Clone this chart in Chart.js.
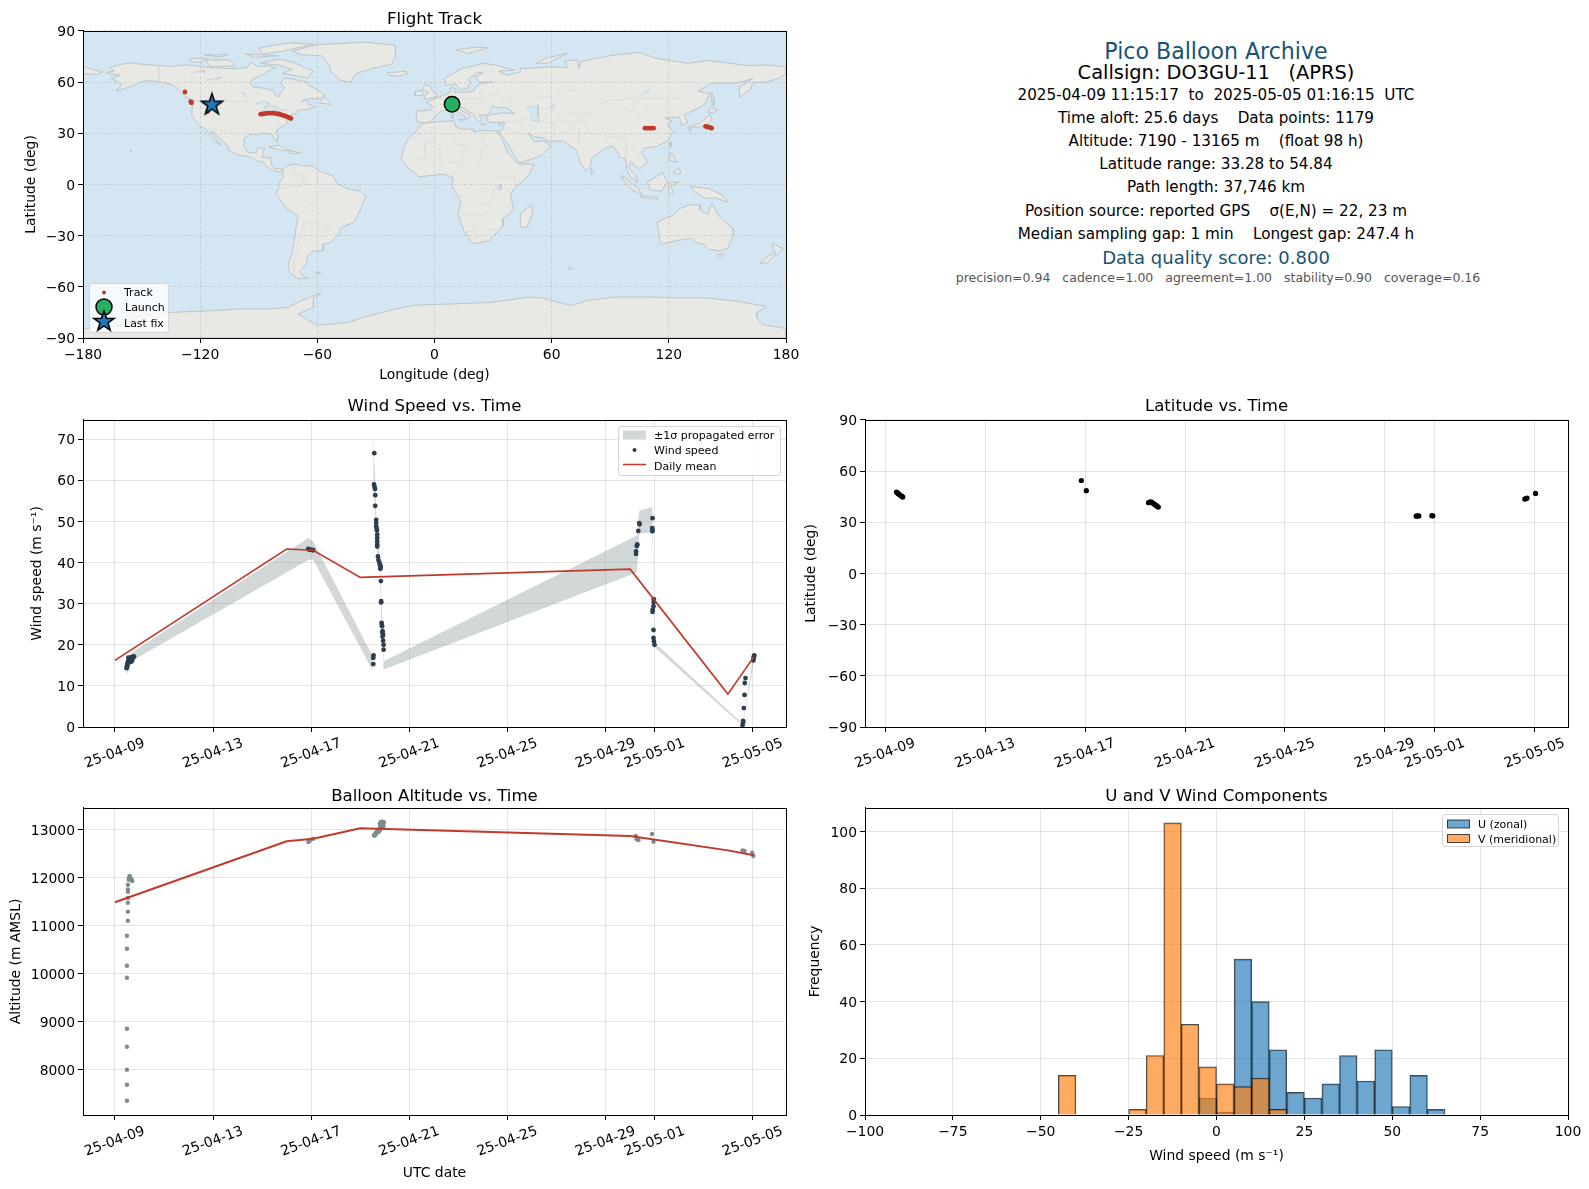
<!DOCTYPE html>
<html>
<head>
<meta charset="utf-8">
<title>Pico Balloon Archive</title>
<script src="https://cdn.jsdelivr.net/npm/chart.js@4/dist/chart.umd.min.js"></script>
<style>
  html, body { margin: 0; background: #fff; }
  body { position: relative; width: 1589px; height: 1189px; overflow: hidden; font-family: "DejaVu Sans", sans-serif; color: #000; }
  canvas { position: absolute; }
  .info { position: absolute; left: 916px; width: 600px; text-align: center; white-space: pre; line-height: 1; transform: translateY(-50%); }
  .legend { position: absolute; box-sizing: border-box; background: rgba(255,255,255,.8); border: 1px solid #d5d5d5; border-radius: 3px; font-size: 11px; }
  .legend div { position: absolute; white-space: pre; line-height: 1; transform: translateY(-50%); }
  .legend svg { position: absolute; overflow: visible; }
</style>
</head>
<body>
<canvas id="mapChart" style="left:0;top:5px" width="830" height="385"></canvas>
<canvas id="windChart" style="left:0;top:394px" width="800" height="390"></canvas>
<canvas id="altChart" style="left:0;top:782px" width="800" height="407"></canvas>
<canvas id="latChart" style="left:800px;top:394px" width="789" height="390"></canvas>
<canvas id="histChart" style="left:800px;top:782px" width="789" height="407"></canvas>

<div class="info" style="top:51px;font-size:22.1px;color:#1a5276">Pico Balloon Archive</div>
<div class="info" style="top:73px;font-size:19.4px">Callsign: DO3GU-11   (APRS)</div>
<div class="info" style="top:96px;font-size:15.2px">2025-04-09 11:15:17  to  2025-05-05 01:16:15  UTC</div>
<div class="info" style="top:119px;font-size:15.2px">Time aloft: 25.6 days    Data points: 1179</div>
<div class="info" style="top:141.5px;font-size:15.2px">Altitude: 7190 - 13165 m    (float 98 h)</div>
<div class="info" style="top:165px;font-size:15.2px">Latitude range: 33.28 to 54.84</div>
<div class="info" style="top:188px;font-size:15.2px">Path length: 37,746 km</div>
<div class="info" style="top:211.5px;font-size:15.2px">Position source: reported GPS    σ(E,N) = 22, 23 m</div>
<div class="info" style="top:234.5px;font-size:15.2px">Median sampling gap: 1 min    Longest gap: 247.4 h</div>
<div class="info" style="top:258px;font-size:18px;color:#1a5276">Data quality score: 0.800</div>
<div class="info" style="top:278px;left:918px;font-size:12.5px;color:#555">precision=0.94   cadence=1.00   agreement=1.00   stability=0.90   coverage=0.16</div>

<div class="legend" style="left:89px;top:283px;width:80px;height:50px;background:rgba(255,255,255,.78)">
  <svg style="left:0;top:0" width="80" height="50">
    <circle cx="14" cy="8.5" r="2" fill="#c0392b"/>
    <circle cx="14" cy="23" r="8" fill="#27ae60" stroke="#000" stroke-width="1.5"/>
    <polygon points="14,27 16.5,34.3 24.2,34.4 18,39 20.3,46.3 14,42 7.7,46.3 10,39 3.8,34.4 11.5,34.3" fill="#1f77b4" stroke="#000" stroke-width="1.5"/>
  </svg>
  <div style="left:34px;top:8px">Track</div>
  <div style="left:35px;top:23px">Launch</div>
  <div style="left:34px;top:38.5px">Last fix</div>
</div>
<div class="legend" style="left:618px;top:426px;width:163px;height:50px">
  <svg style="left:0;top:0" width="163" height="50">
    <rect x="4" y="3.5" width="23" height="9" fill="#7f8c8d" fill-opacity=".35"/>
    <circle cx="15.5" cy="23" r="2" fill="#2c3e50"/>
    <line x1="4" x2="27" y1="37.5" y2="37.5" stroke="#c0392b" stroke-width="1.5"/>
  </svg>
  <div style="left:35px;top:7.5px">±1σ propagated error</div>
  <div style="left:35px;top:23px">Wind speed</div>
  <div style="left:35px;top:38.5px">Daily mean</div>
</div>
<div class="legend" style="left:1442px;top:814px;width:117px;height:33px">
  <svg style="left:0;top:0" width="117" height="33">
    <rect x="4.5" y="5" width="22" height="8" fill="#1f77b4" fill-opacity=".65" stroke="#000" stroke-opacity=".7"/>
    <rect x="4.5" y="19.5" width="22" height="8" fill="#ff7f0e" fill-opacity=".65" stroke="#000" stroke-opacity=".7"/>
  </svg>
  <div style="left:35px;top:9px">U (zonal)</div>
  <div style="left:35px;top:24px">V (meridional)</div>
</div>

<script>
// land outlines, [lon, lat]
const northAmerica = [[-168,65.5],[-164,66.5],[-166,68.5],[-162,70],[-156.5,71.3],[-150,70.5],[-141,69.7],[-135,69.3],[-128,70],[-124,69.8],[-115,68.5],[-108,68],[-100,68],[-96,68.5],[-94,71.5],[-90,69],[-85,69.5],[-81.5,68.5],[-86,66],[-87.5,64.5],[-93,62],[-94.5,59],[-92.5,57],[-88,56.5],[-82.5,55],[-82,52.8],[-79.5,51.3],[-79,54],[-76.8,56.5],[-78.5,58.8],[-77.5,62.4],[-73,62],[-70,61],[-65,60],[-64.5,58],[-61.5,56.5],[-56,52.5],[-59,50.2],[-65,50.2],[-68,48.8],[-65,49],[-64.5,47],[-61,45.5],[-66,43.7],[-70,43.5],[-70.5,41.8],[-74,40.6],[-75.5,37.5],[-76,35],[-79,33.5],[-81,31.5],[-80.2,27],[-80.5,25.2],[-82,26.5],[-83,29],[-85.5,29.8],[-89,30.2],[-90,29.2],[-94,29.5],[-97.3,27.5],[-97.8,22.5],[-95.5,18.7],[-91.5,18.5],[-90.5,21],[-87,21.5],[-88,17.5],[-88.5,15.8],[-84,15.8],[-83.3,11.5],[-81.5,9],[-79.5,9.5],[-77.5,8.7],[-78,7.5],[-80.5,7.3],[-83,8.3],[-85.7,10],[-87.5,13],[-91.5,14],[-94.5,16.2],[-100,17],[-105.5,20],[-105.5,22.5],[-109,26],[-112.5,30],[-114.7,31.5],[-112,27],[-109.5,23],[-112,25],[-115,29],[-117.2,32.6],[-120.5,34.5],[-122.5,37.5],[-124.3,40.3],[-124,46],[-122.8,49],[-127,51],[-130,54.5],[-133.5,58],[-139,59.8],[-146,61],[-151,60],[-153,58.5],[-158,56.5],[-163,54.8],[-160,58.5],[-162,60],[-165.5,62],[-161,64]];
const greenland = [[-73,78.2],[-60,82],[-35,83.4],[-20,81.5],[-20,75],[-22,70.5],[-32,68],[-40,65],[-43,60],[-48,61],[-53,66],[-54,70],[-58,75.5],[-68,76]];
const baffin = [[-80,73.5],[-72,71.5],[-67,69],[-62,66.5],[-65,62.5],[-72,64],[-78,65],[-73,67.5],[-80,70],[-89,71]];
const victoriaIsland = [[-117,73],[-105,73],[-102,69.5],[-115,69]];
const ellesmere = [[-90,80],[-75,83],[-62,82.3],[-78,78],[-88,76.5]];
const banksIsland = [[-125,74],[-116,73.5],[-120,71.5],[-125,72]];
const devonIsland = [[-97,76.5],[-80,75.5],[-92,74.5]];
const melvilleIsland = [[-118,76],[-106,76],[-110,74.8]];
const newfoundland = [[-59,47.7],[-56,51.5],[-53,47]];
const cuba = [[-85,22],[-80,23],[-74.3,20],[-78,19.9]];
const hispaniola = [[-74.5,19.8],[-68.5,18.6],[-71.5,17.8],[-74.5,18.5]];
const southAmerica = [[-77.5,8.7],[-75.5,11],[-72,12],[-68,11],[-62,10.7],[-60,8.5],[-52,5],[-50,0.5],[-44.5,-2.5],[-38,-4],[-35,-7],[-37,-12],[-39,-17],[-41,-22],[-48,-25.5],[-48.7,-28.5],[-53,-34],[-57,-35],[-57,-38.5],[-62,-39],[-65,-42],[-65.5,-46],[-69,-51],[-68,-53],[-65,-55],[-70,-55],[-74,-52],[-75,-47],[-73,-40],[-71.5,-30],[-70,-18.5],[-76,-14],[-81.2,-5.5],[-80,-2.5],[-79.5,1],[-77.5,4],[-77.8,7.5]];
const africa = [[-6,35.8],[3,36.9],[10,37.3],[11,33.5],[15,32.3],[20,32.5],[20,30.8],[25,31.7],[32,31.2],[32.5,29.8],[34,28],[36,23],[37.5,18.5],[43,12],[51,11.8],[48,5],[41,-2],[39,-6],[40.5,-15],[35,-20],[35,-24],[32.8,-27],[28,-33],[20,-34.8],[18,-32],[15,-27],[12,-17.5],[13.5,-10],[9,-1],[9.5,4],[5,6],[-4,5],[-8,4.5],[-13,9],[-17,14.5],[-16,21],[-13,27.5],[-9.5,31]];
const madagascar = [[49.5,-12],[50.4,-16],[47.5,-25],[44,-25],[44,-17]];
const eurasia = [[-9,37],[-9.3,43],[-2,43.5],[-1,46],[-4.5,48.3],[2,51],[8,54],[8.5,57],[10.7,56],[10,54],[14,54],[20,54.5],[21,57],[24,59.3],[30,60],[23,60],[21,63],[25,65.5],[22,65.7],[17,61.5],[18.5,60],[16.5,56.2],[13,55.5],[11,59],[6,58],[5,62],[14,68],[25,71],[31,70],[41,67],[33,66.5],[37,64],[44,66],[44,68],[54,68.5],[60,69],[68,68.5],[67,72.5],[73,73],[74,68],[75,72],[81,73.5],[90,75.5],[105,77.5],[113,74],[130,71],[140,72.7],[160,69.7],[170,70],[180,69],[180,65],[177,62.5],[170,60],[163,59.8],[162,56],[156.5,51],[156,57],[163,62],[155,59.5],[142,59.3],[135,54.7],[141,53],[138,46.5],[132,43],[128,41],[129.5,36],[126.5,34.5],[126,37.5],[125,39.7],[121,39],[118,39],[122,37],[119.5,35],[122,31],[120,26],[114,22.3],[108.5,21.5],[105.8,19],[109,13],[105,9],[103,11],[100.5,13.5],[99.5,10],[103,5],[104,1.3],[100.5,4],[98.5,8],[98,15],[94.5,16],[94,18.5],[91,22.5],[87,21],[80.5,15.5],[80,11],[77.5,8],[75,12],[73,19],[72,21],[69,22.5],[66.5,25.3],[57,25.5],[56.5,27],[51,28],[48,30],[51,25],[56,25.5],[59.5,22.5],[55,17],[45,13],[43,13],[39,21],[35,28],[32.6,30],[32.3,31.3],[34.5,31.5],[36,36.5],[30,36.3],[27,37],[26.5,39.8],[29,41],[35,42],[41,41.5],[37,45],[33,45],[30,46],[28,42],[26,40.5],[23,40.5],[24,37.8],[22.5,36.5],[19.5,41.5],[13.5,45.5],[12.3,44.5],[18.5,40],[16,38],[15.5,40],[10,44],[3,43],[0,39.5],[-2,36.8],[-5.5,36]];
const chukotkaEnd = [[-180,69],[-170,66],[-173,64.5],[-180,65]];
const antarctica = [[-180,-84.5],[-162,-83],[-155,-78],[-135,-75],[-115,-74],[-100,-73],[-85,-73],[-75,-72],[-68,-68],[-58,-63.5],[-62,-67],[-62,-72],[-70,-76],[-60,-82.5],[-45,-81],[-35,-77.5],[-20,-73],[-10,-70.8],[10,-70],[30,-69],[48,-66],[55,-66.5],[70,-71],[78,-68],[93,-66],[110,-66],[125,-66.5],[140,-66.5],[155,-68.5],[170,-71.5],[165,-75],[165,-78],[168,-82],[180,-84.5],[180,-90],[-180,-90]];
const australia = [[114,-22],[122,-18],[126,-14],[130,-12],[136,-12],[136,-15],[140,-17.5],[142,-11],[146,-19],[153,-26],[153,-30],[150,-37.5],[146,-39],[140,-38],[138,-35],[135,-34.5],[131,-31.5],[124,-33],[116,-35],[115,-31]];
const nzNorth = [[172.7,-34.5],[178.5,-37.7],[175,-41.5],[174,-39]];
const nzSouth = [[173,-40.8],[174,-42],[170.5,-46],[166.7,-46],[172,-41]];
const tasmania = [[145,-41],[148,-41],[147,-43.5],[145.5,-42.5]];
const newGuinea = [[131,-1],[141,-2.6],[147,-6],[150.5,-10.5],[144,-8],[138,-8],[133,-4]];
const borneo = [[109,1.5],[117,7],[119,1],[116,-4],[110,-3]];
const sumatra = [[95.3,5.5],[104,-2],[106,-6],[101.5,-3.5],[97,2]];
const java = [[105.5,-6.5],[114.5,-7.5],[114,-8.7],[106,-7.7]];
const sulawesi = [[120,1],[125,1.5],[121,-1],[122.5,-5],[120,-5.5]];
const luzon = [[120.5,18.5],[122,18],[124,13],[120.5,14]];
const mindanao = [[122,7],[125.5,9.7],[126,6.5],[124,6]];
const honshu = [[131,34],[136,36],[140,40],[141.5,41],[142,38.5],[140,35],[136,33.7],[132,33.5]];
const hokkaido = [[140,42],[141.5,45.3],[145,43.5],[143,42]];
const kyushu = [[130,33.5],[131.5,33],[131,31],[130,32]];
const sakhalin = [[142,54],[143,50],[143,46],[142,48]];
const taiwan = [[121,25],[121,22],[120,23]];
const sriLanka = [[80,9.7],[82,7.5],[80.5,6]];
const britain = [[-5.5,50],[1.5,51.2],[1,53],[-2,56],[-2,57.7],[-5,58.6],[-6,56],[-3,54],[-5,52]];
const ireland = [[-10,52],[-6,52.2],[-6,55],[-10,54.5]];
const iceland = [[-24,65.5],[-15,66.3],[-13.5,65],[-19,63.4],[-23,64]];
const svalbard = [[11,79],[22,80.5],[27,80],[17,76.7]];
const novayaZemlya = [[52,71],[57,74],[68,76.8],[58,71]];
const sicily = [[12.5,38],[15.5,38.2],[15,36.7]];
const sardinia = [[8.3,41],[9.7,41],[9.5,39],[8.5,39]];
const crete = [[23.5,35.5],[26.3,35.2],[24,35]];
const cyprus = [[32.5,35],[34.5,35.6],[33.5,34.6]];
const falklands = [[-61,-51.5],[-58,-51.3],[-59,-52.3]];
const kerguelen = [[68.5,-49],[70.5,-49],[69.5,-50]];
const hawaii = [[-156,20.3],[-155,19.7],[-155.7,19]];
const landShapes = [northAmerica, greenland, baffin, victoriaIsland, ellesmere, banksIsland, devonIsland, melvilleIsland, newfoundland, cuba, hispaniola, southAmerica, africa, madagascar, eurasia, chukotkaEnd, antarctica, australia, nzNorth, nzSouth, tasmania, newGuinea, borneo, sumatra, java, sulawesi, luzon, mindanao, honshu, hokkaido, kyushu, sakhalin, taiwan, sriLanka, britain, ireland, iceland, svalbard, novayaZemlya, sicily, sardinia, crete, cyprus, falklands, kerguelen, hawaii];

const caspian = [[47,45],[53,46.5],[53,40],[54,37],[50,37.5],[49,41]];
const aral = [[58.5,46],[61.5,46.5],[60,44]];
const superior = [[-92,46.7],[-88,48.8],[-85,47.8],[-85,46.7]];
const michigan = [[-87.8,42],[-87,45.5],[-85,45.8],[-86.3,42.5]];
const huron = [[-84,46],[-80,45.5],[-81.7,43.2],[-83.5,43.8]];
const erie = [[-83.3,41.6],[-79,42.9],[-79.5,42.4]];
const ontario = [[-79.5,43.5],[-76,44],[-76.5,43.3]];
const greatBear = [[-125,65.5],[-118,67],[-118,65.5]];
const greatSlave = [[-117,61],[-109,62.7],[-112,61.5]];
const winnipeg = [[-99,54],[-97,53.5],[-96.5,50.5]];
const baikal = [[104,51.5],[110,55.7],[109,53.5]];
const lakeVictoria = [[31.7,-0.8],[34,0],[34,-2.8],[32,-2.8]];
const waterShapes = [caspian, aral, superior, michigan, huron, erie, ontario, greatBear, greatSlave, winnipeg, baikal, lakeVictoria];

const borderLines = [
  [[-122.8,49],[-95,49],[-89,48],[-83,46],[-79,43],[-75,45],[-70,46],[-67,47]],
  [[-117,32.5],[-106,31.8],[-101,29.5],[-97.5,26]],
  [[-141,69.7],[-141,60],[-135,59]],
  [[-92,14.5],[-91,17.5],[-88.5,17.8]],
  [[-88,13.5],[-86,15]],[[-83.5,11],[-86,11]],
  [[-60,5],[-60,1],[-70,-1],[-70,-4],[-74,-7],[-70,-11],[-65,-10],[-60,-14],[-58,-20],[-54,-25],[-57,-30],[-53,-33.5]],
  [[-70,-18],[-66,-22],[-70,-33],[-72,-45],[-72,-52]],
  [[-80,-3],[-75,-1],[-70,-1]],[[-72,11],[-72,7],[-67,6],[-67,1],[-70,-1]],
  [[-66,-22],[-62,-22],[-58,-20]],[[-62,-22],[-54,-25]],
  [[-13,27.5],[-8.7,27.5],[-8.7,29.5],[-1,32],[-2,35]],
  [[9,37],[8,33],[9.5,30],[10,24],[12,23.5],[25,20],[25,31.7]],
  [[25,22],[36.5,22]],
  [[24,20],[24,15.5],[22,11],[27,5],[35,4.5],[41,4],[41,-2]],
  [[3,12],[3,23],[-5,25],[-5,15.5],[-12,15]],
  [[12,23.5],[15.5,23],[14,13],[9,4.5]],[[3,12],[14,13]],
  [[12,-6],[22,-11],[29,-12],[30,-8],[30,-1],[34,-1],[40,-4.5]],
  [[12,-17.5],[24,-18],[33,-16],[40,-11]],
  [[20,-29],[20,-22],[25,-18]],[[15,-28],[28,-26],[32,-26]],
  [[-1.5,43],[3,42.5]],[[2.5,51],[8,49],[7,46],[7.5,44]],[[7,53.5],[6,50]],
  [[14,54],[15,51],[12,50],[13,47.5],[7,47]],[[14,51],[24,50],[23,54.5]],[[24,50],[30,46]],
  [[23,54],[31,52.5],[40,50],[38,47]],[[28,60],[31,62],[29,69.5]],[[12,61],[15,66],[20,69],[29,69.5]],
  [[14,47],[22,48],[27,48],[29,45.5]],[[13.5,46],[19,45],[22.5,44],[28.5,43.7]],[[19.5,42],[26,41]],
  [[37,46],[48,50],[50,51],[61,51],[70,55],[77,53],[87,49],[98,50],[107,50],[118,50],[127,50],[135,48],[131,43]],
  [[87,49],[92,45],[105,42],[112,44],[120,47],[118,50]],
  [[87,49],[80,42],[74,39],[78,33],[80,30],[88,28],[97,28],[98,24],[102,22],[108,21.5]],
  [[52,42],[56,45],[66,41],[74,42],[80,42]],[[48,30],[45,36],[45,39],[49,38]],[[61,37],[61,29],[62,25]],
  [[54,37],[61,36.5],[66,37],[74,37]],[[74,37],[70,32],[62,29]],[[74,33],[74,25],[70,24],[68.5,23.7]],
  [[36,36.5],[42,37],[45,37]],[[48,29],[44,29],[39,32],[36.5,32.5]],[[43,16.5],[52,19],[55,20]],
  [[92,21],[93,25],[97,28]],[[98,24],[98,16]],[[101,21],[105,15],[107,11]],[[125,40],[130.5,42.5]]
];

// flight track, [lon, lat]
const trackPoints = [[-127.8,54.2],[-124.8,48.6],[-124.5,47.9],[-116.2,42.9],[-89,41.2],[-88,41.3],[-87,41.5],[-86,41.7],[-85,41.8],[-84,41.8],[-83,41.8],[-82,41.7],[-81,41.5],[-80,41.3],[-79,41],[-78,40.7],[-77,40.3],[-76,39.9],[-75,39.4],[-74,39],[-73.5,38.6],[107.8,33],[108.8,33],[110,33],[111,33],[112.2,33],[138.8,34],[139.5,33.9],[140.3,33.6],[141.2,33.3],[141.9,33]];
const launchPoint = [9, 47];
const lastFixPoint = [-114, 47];

const mapLonTicks = [-180,-120,-60,0,60,120,180];
const mapLatTicks = [-90,-60,-30,0,30,60,90];

// time axis, days since 2025-04-09 00:00
const dateTickDays = [0,4,8,12,16,20,22,26];
const dateTickLabels = ['25-04-09','25-04-13','25-04-17','25-04-21','25-04-25','25-04-29','25-05-01','25-05-05'];

const windDays = [0.48,0.49,0.5,0.5,0.51,0.54,0.56,0.57,0.58,0.6,0.61,0.63,0.65,0.67,0.68,0.62,0.65,0.7,0.72,0.75,0.78,0.55,7.88,7.92,7.95,8.04,8.08,10.53,10.53,10.54,10.57,10.56,10.58,10.6,10.61,10.61,10.65,10.65,10.65,10.67,10.68,10.69,10.69,10.69,10.69,10.69,10.72,10.74,10.78,10.8,10.81,10.82,10.82,10.82,10.82,10.84,10.85,10.85,10.87,10.88,10.89,10.9,10.91,10.91,10.93,10.93,10.95,10.95,21.24,21.24,21.27,21.28,21.29,21.33,21.37,21.38,21.91,21.9,21.9,21.91,21.96,21.96,21.95,21.92,21.91,21.95,21.95,21.97,21.99,25.58,25.6,25.61,25.63,25.66,25.67,25.7,26.02,26.03,26.04,26.06];
const windSpeeds = [14.3,14.6,14.8,15.1,15.4,16,16.2,15.8,16.4,16.6,16.3,16.8,16.6,17,16.8,15.8,15.9,16.1,16.6,17.2,17.1,16.9,43.3,43.2,43.1,43.1,43,15.3,16.8,17.4,66.6,59,58.4,57.9,56.4,53.8,50.4,49.6,48.8,48.2,47.8,46.8,46,45.2,44.4,43.9,41.5,40.6,40,39.5,39,38.7,38.9,39.2,38.5,35.5,30.6,30.3,25.3,24.8,24.5,23,23.3,22,22.5,21,20,18.8,42.1,42.7,44,44.2,44.4,47.7,49.6,49.3,50.8,48.4,47.6,47.9,31.1,30.4,29.4,28.5,28,23.6,21.65,20.8,20,0.5,1.5,1.2,4.6,7.8,10.7,11.9,16.2,16.7,17.2,17.4];

const bandDays = [0.48,0.67,7.88,8.08,10.5,10.54,10.57,10.6,10.65,10.7,10.8,10.85,10.9,10.95,21.27,21.37,21.9,21.96,22.03,25.58,26.04];
const bandUpper = [15.2,18,46,45.2,17.2,71.4,64.6,62,52,46,41,33,24,16,46.6,52.6,53.5,32,20.4,0.8,18];
const bandLower = [12.3,16,40.6,40.7,13.8,62,56,53,47,42,37,27,21,14,37.6,47,47.4,30,19.2,0.3,16];

const meanDays = [0,7,8.08,10,21,24.98,26.03];
const windMeans = [16.2,43.3,43,36.4,38.4,8,17];

const altDays = [0.49,0.49,0.49,0.49,0.49,0.49,0.49,0.49,0.49,0.53,0.53,0.53,0.53,0.53,0.53,0.53,0.56,0.58,0.6,0.61,0.63,0.65,0.67,0.69,0.71,7.88,7.92,7.95,8.08,10.56,10.58,10.6,10.63,10.66,10.68,10.7,10.73,10.75,10.76,10.78,10.8,10.81,10.82,10.83,10.84,10.85,10.86,10.87,10.88,10.89,10.9,10.91,10.92,10.94,10.96,10.8,10.84,10.88,10.92,10.95,21.23,21.26,21.3,21.34,21.89,21.95,25.58,25.66,25.97,26.02];
const altitudes = [7354,7688,8000,8479,8854,9917,10167,10521,10792,11104,11292,11479,11580,11708,11757,11854,11960,12000,12035,12020,12000,11980,11960,11950,11930,12743,12765,12785,12812,12882,12900,12880,12938,12920,12960,12945,12972,12990,12960,13010,13040,13000,13060,13090,13110,13030,13130,13070,13146,13100,13150,13060,13110,13160,13150,13130,13160,13165,13070,13080,12868,12800,12810,12785,12910,12750,12570,12556,12521,12452];
const altMeanValues = [11490,12760,12810,13030,12868,12570,12470];
const altTicks = [8000,9000,10000,11000,12000,13000];

const latDays = [0.45,0.49,0.52,0.55,0.58,0.62,0.65,0.68,0.7,7.85,8.05,10.54,10.58,10.62,10.66,10.7,10.74,10.78,10.82,10.86,10.9,10.93,21.25,21.3,21.36,21.88,21.92,25.6,25.65,25.69,26.03];
const latValues = [47.7,47.2,46.8,46.4,46.1,45.7,45.4,45.1,44.8,54.5,48.5,41.5,41.8,41.9,41.9,41.4,40.9,40.5,40.1,39.7,39.2,38.9,33.6,33.7,33.7,33.9,33.8,43.6,43.9,44.2,46.9];

const histBinCenters = [-42.5,-22.5,-17.5,-12.5,-7.5,-2.5,2.5,7.5,12.5,17.5,22.5,27.5,32.5,37.5,42.5,47.5,52.5,57.5,62.5];
const uCounts = [0,0,0,0,0,6,1,55,40,23,8,6,11,21,12,23,3,14,2];
const vCounts = [14,2,21,103,32,17,11,10,13,2,0,0,0,0,0,0,0,0,0];

const windTicks = [0,10,20,30,40,50,60,70];
const histXTicks = [-100,-75,-50,-25,0,25,50,75,100];
const histYTicks = [0,20,40,60,80,100];

const RED = '#c0392b';
const GRAY = '#7f8c8d';
const NAVY = '#2c3e50';
const GRID = 'rgba(176,176,176,0.34)';
const TICK_FONT = 13.9;
const TITLE_H = 26;

Chart.defaults.font.family = '"DejaVu Sans", sans-serif';
Chart.defaults.font.size = TICK_FONT;
Chart.defaults.color = '#000';
Chart.defaults.animation = false;

const zip = (xs, ys) => xs.map((x, i) => ({ x: x, y: ys[i] }));
const pairs = list => list.map(p => ({ x: p[0], y: p[1] }));
const minusSign = v => String(v).replace('-', '\u2212');

// draw the four sided box round the plot and the map ocean
const framePlugin = {
  id: 'frame',
  beforeDraw(chart, args, opts) {
    if (!opts.ocean) return;
    const a = chart.chartArea;
    chart.ctx.fillStyle = opts.ocean;
    chart.ctx.fillRect(a.left, a.top, a.width, a.height);
  },
  afterDraw(chart) {
    const a = chart.chartArea, ctx = chart.ctx;
    ctx.save();
    ctx.strokeStyle = '#000';
    ctx.lineWidth = 1;
    ctx.strokeRect(Math.round(a.left) + 0.5, Math.round(a.top) + 0.5, Math.round(a.width), Math.round(a.height));
    ctx.restore();
  }
};
Chart.register(framePlugin);

function xScale(range, ticks, height, title, titleFromBottom, rotated) {
  const s = {
    type: 'linear',
    min: range[0],
    max: range[1],
    offset: false,
    afterBuildTicks: scale => { scale.ticks = ticks.map(v => ({ value: v })); },
    afterFit: scale => { scale.height = height; },
    grid: { color: GRID, tickColor: '#000', tickLength: 5, offset: false },
    border: { color: '#000' },
    ticks: { autoSkip: false, maxRotation: 0, minRotation: 0, padding: 4.5, callback: minusSign }
  };
  if (rotated) {
    s.ticks.maxRotation = 20;
    s.ticks.minRotation = 20;
    s.ticks.labelOffset = 29.5;
    s.ticks.padding = 3;
    s.ticks.callback = v => dateTickLabels[dateTickDays.indexOf(v)];
  }
  if (title) {
    s.title = { display: true, text: title, font: { size: TICK_FONT }, padding: { top: 0, bottom: titleFromBottom - TICK_FONT * 0.6 } };
  }
  return s;
}

function yScale(range, ticks, width, title, titleCenter) {
  return {
    type: 'linear',
    min: range[0],
    max: range[1],
    afterBuildTicks: scale => { scale.ticks = ticks.map(v => ({ value: v })); },
    afterFit: scale => { scale.width = width; },
    grid: { color: GRID, tickColor: '#000', tickLength: 5 },
    border: { color: '#000' },
    ticks: { autoSkip: false, padding: 3, labelOffset: 1.5, callback: minusSign },
    title: { display: true, text: title, font: { size: TICK_FONT }, padding: { top: titleCenter - TICK_FONT * 0.6, bottom: 0 } }
  };
}

function panel(id, title, titleTop, datasets, x, y, rightPad, ocean) {
  return new Chart(document.getElementById(id), {
    type: 'scatter',
    data: { datasets: datasets },
    options: {
      responsive: false,
      animation: false,
      layout: { padding: { right: rightPad } },
      scales: { x: x, y: y },
      plugins: {
        legend: { display: false },
        tooltip: { enabled: false },
        frame: { ocean: ocean },
        title: { display: true, text: title, fullSize: false, color: '#000', font: { size: 16.6, weight: 'normal' }, padding: { top: titleTop, bottom: 6 - titleTop } }
      }
    }
  });
}

// filled five point star for the last fix marker
function starImage() {
  const c = document.createElement('canvas');
  c.width = 26; c.height = 26;
  const g = c.getContext('2d');
  g.beginPath();
  for (let i = 0; i < 10; i++) {
    const r = i % 2 ? 4.4 : 11.2;
    const a = -Math.PI / 2 + i * Math.PI / 5;
    g.lineTo(13 + r * Math.cos(a), 13.5 + r * Math.sin(a));
  }
  g.closePath();
  g.fillStyle = '#1f77b4';
  g.fill();
  g.lineWidth = 1.5;
  g.stroke();
  return c;
}

const mapDatasets = [
  { data: pairs([lastFixPoint]), pointStyle: starImage(), pointRadius: 13, clip: false },
  { data: pairs([launchPoint]), pointRadius: 7.7, pointBackgroundColor: '#27ae60', pointBorderColor: '#000', pointBorderWidth: 1.5 },
  { data: pairs(trackPoints), pointRadius: 2.4, pointBackgroundColor: RED, pointBorderWidth: 0 }
];
waterShapes.forEach(s => mapDatasets.push({ data: pairs(s), showLine: true, fill: 'shape', pointRadius: 0, backgroundColor: '#d4e6f1', borderColor: 'rgba(170,180,185,.7)', borderWidth: 0.6 }));
borderLines.forEach(s => mapDatasets.push({ data: pairs(s), showLine: true, pointRadius: 0, borderColor: '#dcdcd8', borderWidth: 0.7 }));
landShapes.forEach(s => {
  const closed = s.concat([s[0]]);
  mapDatasets.push({ data: pairs(closed), showLine: true, fill: 'shape', pointRadius: 0, backgroundColor: '#e8e8e4', borderColor: '#bcc5ca', borderWidth: 1 });
});

const mapX = xScale([-180, 180], mapLonTicks, 52, 'Longitude (deg)', 15);
mapX.grid.z = 1;
mapX.grid.color = 'rgba(150,150,150,.28)';
mapX.border = { color: '#000', dash: [3, 2], z: 1 };
const mapY = yScale([-90, 90], mapLatTicks, 83, 'Latitude (deg)', 31.4);
mapY.grid.z = 1;
mapY.grid.color = 'rgba(150,150,150,.28)';
mapY.border = { color: '#000', dash: [3, 2], z: 1 };
panel('mapChart', 'Flight Track', 4.5, mapDatasets, mapX, mapY, 44, '#d4e6f1');

const windRange = [-1.3, 27.35];
panel('windChart', 'Wind Speed vs. Time', 3, [
  { data: zip(meanDays, windMeans), showLine: true, pointRadius: 0, borderColor: RED, borderWidth: 1.7 },
  { data: zip(windDays, windSpeeds), pointRadius: 2.4, pointBackgroundColor: NAVY, pointBorderWidth: 0 },
  { data: zip(bandDays, bandUpper), showLine: true, pointRadius: 0, borderWidth: 0, fill: '+1', backgroundColor: 'rgba(127,140,141,.35)' },
  { data: zip(bandDays, bandLower), showLine: true, pointRadius: 0, borderWidth: 0 }
], xScale(windRange, dateTickDays, 390 - TITLE_H - 307, null, 0, true),
   yScale([0, 74.7], windTicks, 83, 'Wind speed (m s\u207B\u00B9)', 37.5), 14);

panel('altChart', 'Balloon Altitude vs. Time', 4.5, [
  { data: zip(meanDays, altMeanValues), showLine: true, pointRadius: 0, borderColor: RED, borderWidth: 2 },
  { data: zip(altDays, altitudes), pointRadius: 2.2, pointBackgroundColor: GRAY, pointBorderWidth: 0 }
], xScale(windRange, dateTickDays, 407 - TITLE_H - 307, 'UTC date', 16, true),
   yScale([7058, 13454], altTicks, 83, 'Altitude (m AMSL)', 16.2), 14);

panel('latChart', 'Latitude vs. Time', 3, [
  { data: zip(latDays, latValues), pointRadius: 2.6, pointBackgroundColor: '#000', pointBorderWidth: 0 }
], xScale([-0.81, 27.33], dateTickDays, 390 - TITLE_H - 307, null, 0, true),
   yScale([-90, 90], mapLatTicks, 65, 'Latitude (deg)', 11.7), 21);

panel('histChart', 'U and V Wind Components', 4.5, [
  { type: 'bar', data: zip(histBinCenters, vCounts), grouped: false, barPercentage: 1, categoryPercentage: 1, backgroundColor: 'rgba(255,127,14,.65)', borderColor: 'rgba(0,0,0,.7)', borderWidth: 1 },
  { type: 'bar', data: zip(histBinCenters, uCounts), grouped: false, barPercentage: 1, categoryPercentage: 1, backgroundColor: 'rgba(31,119,180,.65)', borderColor: 'rgba(0,0,0,.7)', borderWidth: 1 }
], xScale([-100, 100], histXTicks, 407 - TITLE_H - 307, 'Wind speed (m s\u207B\u00B9)', 33),
   yScale([0, 108.3], histYTicks, 65, 'Frequency', 15.8), 21);
</script>
</body>
</html>
